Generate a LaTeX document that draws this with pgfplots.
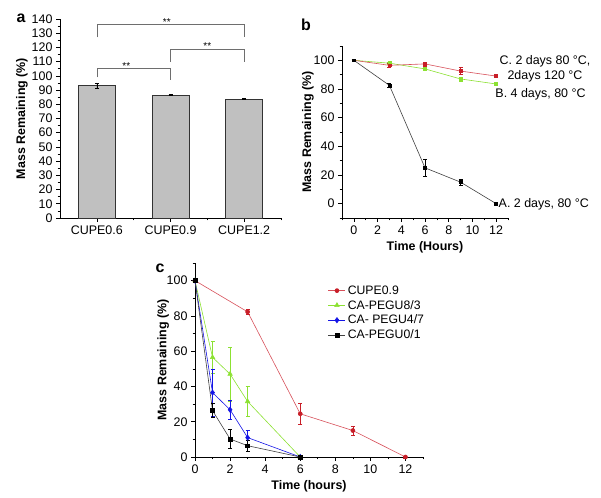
\documentclass[border=0pt]{standalone}
\usepackage{pgfplots}
\pgfplotsset{compat=1.18}
\usepackage{fontspec}
\setmainfont{Liberation Sans}
\definecolor{barfill}{RGB}{192,192,192}
\definecolor{myred}{RGB}{200,30,40}
\definecolor{myredl}{RGB}{215,80,90}
\definecolor{mygreen}{RGB}{140,225,50}
\definecolor{myblue}{RGB}{20,20,230}
\definecolor{brk}{RGB}{110,110,110}
\pgfplotsset{
  myax/.style={scale only axis, anchor=south west, clip=false,
    axis x line*=bottom, axis y line*=left, tick align=outside,
    major tick length=4bp, minor tick length=2.5bp,
    axis line style={line width=0.6bp, black},
    every tick/.style={line width=0.6bp, black},
    font=\fontsize{12.5}{14}\selectfont,
    tick label style={font=\fontsize{12.5}{14}\selectfont},
    /pgf/number format/assume math mode=true,
    label style={font=\bfseries\fontsize{12.5}{14}\selectfont},
  },
  errb/.style={error bars/.cd, y dir=both, y explicit,
    error bar style={line width=0.5bp, #1},
    error mark options={rotate=90, mark size=2bp, line width=0.5bp, #1}},
}
\begin{document}
\begin{tikzpicture}[x=1bp,y=1bp]
\useasboundingbox (0,0) rectangle (601,498);
% ---------------- panel a
\begin{axis}[myax, at={(60bp,280bp)}, width=221bp, height=199bp,
  xmin=-0.5, xmax=2.5, ymin=0, ymax=140,
  ytick={0,10,...,140}, minor ytick={5,15,...,135},
  xtick={0,1,2}, xticklabels={CUPE0.6,CUPE0.9,CUPE1.2},
  minor xtick={0.5,1.5,2.5},
  ylabel={Mass Remaining (\%)},
  ylabel style={at={(axis description cs:-0.172,0.5)}, anchor=center}]
\addplot[ybar, bar width=0.5, fill=barfill, draw=black!80, line width=0.6bp,
  errb=black] coordinates {(0,93) +- (0,2) (1,86.5) +- (0,0.5) (2,83.6) +- (0,0.4)};
\draw[brk, line width=0.6bp] (axis cs:0,99) |- (axis cs:1,105) -- (axis cs:1,97);
\draw[brk, line width=0.6bp] (axis cs:1,110) |- (axis cs:2,119) -- (axis cs:2,110);
\draw[brk, line width=0.6bp] (axis cs:0,127) |- (axis cs:2,136) -- (axis cs:2,127);
\node[anchor=south, inner sep=0.5bp, font=\fontsize{10}{10}\selectfont] at (axis cs:0.4,104) {**};
\node[anchor=south, inner sep=0.5bp, font=\fontsize{10}{10}\selectfont] at (axis cs:1.5,118) {**};
\node[anchor=south, inner sep=0.5bp, font=\fontsize{10}{10}\selectfont] at (axis cs:0.95,135) {**};
\end{axis}
% ---------------- panel b
\begin{axis}[myax, at={(342bp,280bp)}, width=166bp, height=172bp,
  xmin=-1, xmax=13, ymin=-10, ymax=110,
  xtick={0,2,...,12}, minor xtick={-1,1,...,13},
  ytick={0,20,...,100}, minor ytick={-10,10,...,110},
  xlabel={Time (Hours)}, ylabel={Mass Remaining (\%)},
  ylabel style={at={(axis description cs:-0.205,0.5)}, anchor=center}]
\addplot[mygreen, line width=0.6bp, mark=square*, mark size=1.4bp, errb=mygreen]
  coordinates {(0,100) +- (0,0.5) (3,98) +- (0,1) (6,94) +- (0,1) (9,87) +- (0,1.5) (12,83.5) +- (0,0.5)};
\addplot[myredl, line width=0.6bp, mark=square*, mark size=1.4bp, mark options={myred}, errb=myred]
  coordinates {(0,100) +- (0,0.5) (3,96.5) +- (0,1.2) (6,97.5) +- (0,1.5) (9,92.5) +- (0,2.5) (12,89) +- (0,0.8)};
\addplot[black!75, line width=0.6bp, mark=square*, mark size=1.4bp, mark options={black}, errb=black]
  coordinates {(0,100) +- (0,0.5) (3,82.5) +- (0,1.5) (6,25) +- (0,6) (9,15) +- (0,2) (12,0) +- (0,0.5)};
\end{axis}
\node[align=center, font=\fontsize{12.5}{15}\selectfont] at (545,429) {C. 2 days 80 °C,\\2days 120 °C};
\node[font=\fontsize{12.5}{15}\selectfont] at (540.5,404) {B. 4 days, 80 °C};
\node[anchor=west, inner sep=0.5bp, font=\fontsize{12.5}{15}\selectfont] at (498,293.7) {A. 2 days, 80 °C};
% ---------------- panel c
\begin{axis}[myax, at={(195bp,41bp)}, width=228bp, height=194bp,
  xmin=0, xmax=13, ymin=0, ymax=110,
  xtick={0,2,...,12}, minor xtick={1,3,...,13},
  ytick={0,20,...,100}, minor ytick={10,30,...,110},
  xlabel={Time (hours)}, ylabel={Mass Remaining (\%)},
  ylabel style={at={(axis description cs:-0.14,0.5)}, anchor=center},
  legend style={at={(axis description cs:0.57,0.905)}, anchor=north west,
    draw=none, fill=none, row sep=0.5bp,
    font=\fontsize{12.3}{14}\selectfont},
  legend cell align=left]
\addplot[myredl, line width=0.6bp, mark=*, mark size=2bp, mark options={myred}, errb=myred]
  coordinates {(0,100) +- (0,0.3) (3,82.3) +- (0,1.5) (6,24.5) +- (0,6) (9,15) +- (0,2.5) (12,0) +- (0,0.5)};
\addlegendentry{CUPE0.9}
\addplot[mygreen, line width=0.6bp, mark=triangle*, mark size=2.6bp, mark options={mygreen}, errb=mygreen]
  coordinates {(0,100) +- (0,0.3) (1,56.5) +- (0,9) (2,47) +- (0,15.5) (3,31.5) +- (0,8.5) (6,0) +- (0,0.3)};
\addlegendentry{CA-PEGU8/3}
\addplot[myblue, line width=0.6bp, mark=diamond*, mark size=2.6bp, mark options={myblue}, errb=myblue]
  coordinates {(0,100) +- (0,0.3) (1,36.5) +- (0,13.5) (2,26.8) +- (0,5.5) (3,11) +- (0,4) (6,0) +- (0,0.3)};
\addlegendentry{CA- PEGU4/7}
\addplot[black!75, line width=0.6bp, mark=square*, mark size=1.9bp, mark options={black}, errb=black]
  coordinates {(0,100) +- (0,0.3) (1,26.3) +- (0,4) (2,10.2) +- (0,5.5) (3,6.4) +- (0,3) (6,0) +- (0,0.3)};
\addlegendentry{CA-PEGU0/1}
\end{axis}
% panel letters
\node[font=\bfseries\fontsize{16}{16}\selectfont] at (21,480) {a};
\node[font=\bfseries\fontsize{16}{16}\selectfont] at (306,473) {b};
\node[font=\bfseries\fontsize{16}{16}\selectfont] at (160,230) {c};
\end{tikzpicture}
\end{document}
